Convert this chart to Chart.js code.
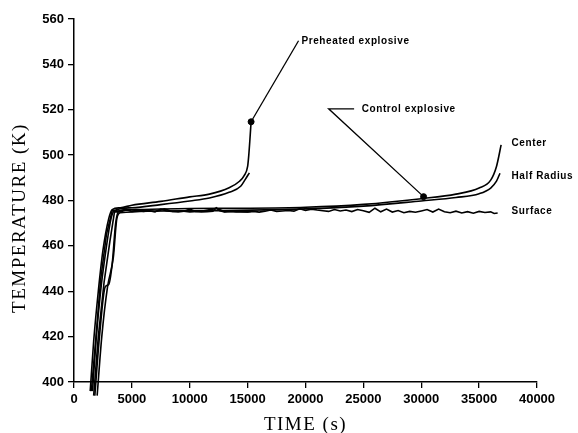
<!DOCTYPE html>
<html>
<head>
<meta charset="utf-8">
<script src="https://cdn.jsdelivr.net/npm/chart.js@4/dist/chart.umd.min.js"></script>
<style>
  html, body { margin: 0; padding: 0; background: #fff; }
  #wrap { width: 578px; height: 433px; }
</style>
</head>
<body>
<div id="wrap"><canvas id="chart" width="578" height="433"></canvas></div>
<script>
// Axis ticks
const xTicks = [0, 5000, 10000, 15000, 20000, 25000, 30000, 35000, 40000];
const yTicks = [400, 420, 440, 460, 480, 500, 520, 540, 560];

// Preheated explosive (time s, temperature K)
const preCenter = [[1400,396],[1700,418],[2100,440],[2500,458],[3000,472],[3300,476],[4000,476.8],
  [5000,477.9],[7500,479.6],[10000,481.6],[11700,482.8],[13400,485.6],[14300,488.5],[14700,491],
  [15000,495],[15100,500],[15200,507],[15300,514.7]];
const preHalf = [[1600,396],[1900,418],[2300,440],[2700,456],[3200,472],[3500,475.6],[5000,476.8],
  [7500,478.2],[10000,479.8],[11700,481.1],[13400,483.6],[14400,486.3],[14800,489.3],[15150,492.2]];
const preSurface = [[1500,396],[1900,420],[2300,445],[2800,465],[3300,475.6],[4000,475.4],[4500,476.2],
  [5000,475.2],[6000,475.7],[7000,475.1],[7800,476.3],[8500,475.2],[9300,475.4],[10000,475.0],
  [11000,475.3],[12300,476.5],[13000,475.1],[14000,475.3],[15000,475.0],[15300,475.2]];

// Control explosive
const ctlCenter = [[1800,394],[2200,420],[2700,442],[3000,443],[3300,452],[3600,470],[3900,475.5],
  [5000,476],[10000,476.5],[15000,476.6],[20000,477],[25000,478.3],[30000,480.8],[33000,482.8],
  [35000,485.5],[36000,489],[36500,495],[36900,504.5]];
const ctlHalf = [[2000,394],[2400,420],[2900,442],[3400,455],[3700,472],[4000,474.6],[10000,475.5],
  [20000,476.3],[25000,477.5],[30000,479.8],[33000,481.3],[35000,483],[36000,485.5],[36500,488.5],[36800,492]];
const ctlSurface = [[1700,394],[2100,420],[2600,444],[3100,462],[3500,475],[4000,475],[4500,475.8],
  [5000,475.3],[5500,475.6],[6000,475.2],[6500,475.5],[7000,475.1],[7500,476.2],[8000,475.4],[8500,475.2],
  [9000,475.0],[9500,475.3],[10000,476.2],[10500,475.2],[11000,475.0],[11500,475.1],[12000,475.3],
  [12300,476.8],[12600,475.5],[13000,475.0],[13500,475.2],[14000,474.9],[14500,475.1],[15000,475.0],
  [15500,475.2],[16000,474.9],[16500,475.3],[17000,475.8],[17500,475.2],[18000,475.4],[18500,475.6],
  [19000,475.3],[19500,476.4],[20000,475.6],[20500,476.2],[21000,475.8],[21500,475.5],[22000,475.2],
  [22500,476.0],[23000,475.4],[23500,475.8],[24000,475.1],[24500,476.0],[25000,475.5],[25500,474.8],
  [26000,476.6],[26500,475.0],[27000,476.2],[27500,474.9],[28000,475.6],[28500,474.6],[29000,475.2],
  [29500,474.8],[30000,475.4],[30500,476.0],[31000,474.9],[31500,476.2],[32000,475.0],[32500,474.6],
  [33000,475.3],[33500,474.5],[34000,475.1],[34500,474.4],[35000,475.2],[35500,474.7],[36000,475.0],
  [36300,474.3],[36600,474.5]];

// Annotation leaders and labels
const preArrow = [[15300,514.7],[19400,550.4]];
const ctlArrow = [[30200,481.7],[22000,520.4],[24200,520.4]];
const markers = [[15300,514.7],[30200,481.7]];
const notes = [
  { text: 'Preheated explosive', x: 19650, y: 550.4 },
  { text: 'Control explosive', x: 24850, y: 520.4 },
  { text: 'Center', x: 37800, y: 505.2 },
  { text: 'Half Radius', x: 37800, y: 490.5 },
  { text: 'Surface', x: 37800, y: 475.4 }
];

const pts = a => a.map(p => ({ x: p[0], y: p[1] }));

const curve = (label, data, smooth) => ({
  label, data: pts(data),
  borderColor: '#000', borderWidth: 1.6,
  pointRadius: 0, tension: smooth ? 0.4 : 0,
  cubicInterpolationMode: smooth ? 'monotone' : 'default',
  clip: { left: 0, top: 0, right: 0, bottom: 14 }
});

// Axis titles + note text
const textPlugin = {
  id: 'notes',
  afterDraw(chart) {
    const { ctx, scales: { x, y } } = chart;
    ctx.save();
    ctx.fillStyle = '#000';
    ctx.font = 'bold 10px "Liberation Sans", Arial, sans-serif';
    ctx.letterSpacing = '0.6px';
    ctx.textBaseline = 'middle';
    ctx.textAlign = 'left';
    notes.forEach(n => ctx.fillText(n.text, x.getPixelForValue(n.x), y.getPixelForValue(n.y)));

    ctx.font = '19px "Liberation Serif", "Times New Roman", serif';
    ctx.letterSpacing = '1.5px';
    ctx.textAlign = 'center';
    ctx.fillText('TIME (s)', (x.left + x.right) / 2, 425);
    ctx.translate(20, 218);
    ctx.rotate(-Math.PI / 2);
    ctx.fillText('TEMPERATURE (K)', 0, 0);
    ctx.restore();
  }
};

const tickFont = { family: '"Liberation Sans", Arial, sans-serif', size: 13, weight: 'bold' };

new Chart(document.getElementById('chart'), {
  type: 'line',
  data: {
    datasets: [
      curve('Preheated center', preCenter, true),
      curve('Preheated half radius', preHalf, true),
      curve('Preheated surface', preSurface, false),
      curve('Control center', ctlCenter, true),
      curve('Control half radius', ctlHalf, true),
      curve('Control surface', ctlSurface, false),
      { label: 'pre arrow', data: pts(preArrow), borderColor: '#000', borderWidth: 1.3, pointRadius: 0 },
      { label: 'ctl arrow', data: pts(ctlArrow), borderColor: '#000', borderWidth: 1.3, pointRadius: 0 },
      { label: 'markers', data: pts(markers), showLine: false, pointRadius: 3,
        pointBackgroundColor: '#000', pointBorderColor: '#000' }
    ]
  },
  options: {
    responsive: false,
    animation: false,
    layout: { padding: { top: 19, right: 41, left: 0, bottom: 0 } },
    plugins: { legend: { display: false }, tooltip: { enabled: false } },
    scales: {
      x: {
        type: 'linear', min: 0, max: 40000,
        afterBuildTicks: s => { s.ticks = xTicks.map(v => ({ value: v })); },
        afterFit: s => { s.height = 51; },
        border: { display: true, color: '#000', width: 1.5 },
        grid: { drawOnChartArea: false, tickLength: 6, color: '#000', lineWidth: 1.3 },
        ticks: { color: '#000', padding: 4, maxRotation: 0, autoSkip: false, font: tickFont,
          callback: v => String(v) }
      },
      y: {
        type: 'linear', min: 400, max: 560,
        afterBuildTicks: s => { s.ticks = yTicks.map(v => ({ value: v })); },
        afterFit: s => { s.width = 74; },
        border: { display: true, color: '#000', width: 1.5 },
        grid: { drawOnChartArea: false, tickLength: 6, color: '#000', lineWidth: 1.3 },
        ticks: { color: '#000', padding: 4, font: tickFont, callback: v => String(v) }
      }
    }
  },
  plugins: [textPlugin]
});
</script>
</body>
</html>
